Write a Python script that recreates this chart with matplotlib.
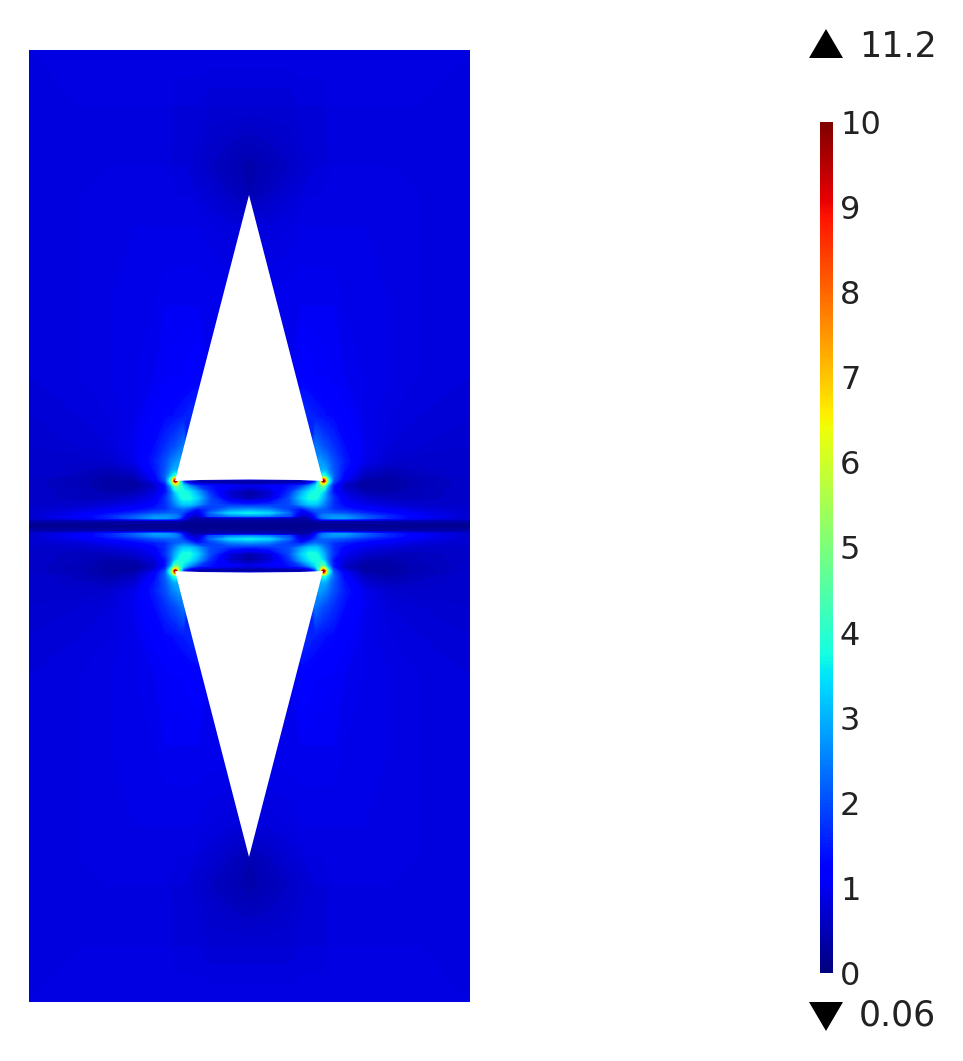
import numpy as np
from matplotlib import pyplot as plt
from matplotlib.cm import ScalarMappable
from matplotlib.colors import Normalize

# offsets from the centre of the block, in picture pixels
dx = [0, 20, 40, 52, 60, 66, 70, 72, 74, 76, 78, 84, 95, 115, 140, 170, 220]
dy = [0, 5, 8, 10, 13, 17, 22, 28, 34, 40, 43, 45, 47, 50, 56, 65, 80, 110, 150, 220, 300, 331, 360, 420, 476]

# field magnitude, upper left quarter (rows dy, columns dx)
field = [
    [.12, .12, .12, .12, .12, .12, .12, .12, .12, .12, .12, .12, .12, .12, .12, .13, .15],
    [.25, .25, .25, .25, .25, .3, .35, .35, .35, .35, .35, .35, .35, .35, .35, .35, .4],
    [.5, .5, .4, .3, .5, 1.2, 2, 2.2, 2.4, 2.5, 2.6, 2.8, 2.8, 2.2, 1.6, 1.1, .7],
    [2.6, 2.4, 2, .6, .8, 1.5, 2.2, 2.4, 2.5, 2.6, 2.6, 2.7, 2.6, 2.1, 1.6, 1.1, .7],
    [3.6, 3.3, 2.2, .8, 1.2, 1.8, 2.1, 2.2, 2.2, 2.2, 2.2, 2.1, 2, 1.6, 1.3, 1, .7],
    [2.6, 2.4, 1.8, 1.4, 2, 2.3, 2.2, 2.2, 2.1, 2.1, 2, 1.7, 1.5, 1.2, 1, .8, .7],
    [1.4, 1.6, 2, 2.8, 3.3, 3.3, 3, 2.8, 2.6, 2.4, 2.2, 1.7, 1.2, .9, .75, .65, .65],
    [.4, .8, 2, 3.3, 3.8, 3.8, 3.5, 3.2, 3, 2.7, 2.4, 1.7, 1, .7, .55, .55, .65],
    [.3, .7, 1.7, 2.9, 3.6, 3.8, 3.8, 3.6, 3.3, 2.9, 2.4, 1.4, .8, .45, .4, .55, .65],
    [.9, 1.1, 1.4, 1.8, 2.6, 3.4, 4.1, 4.5, 4.6, 3.9, 3, 1.4, .6, .3, .35, .5, .65],
    [.35, .4, .45, .6, 1.1, 2.3, 4.5, 6, 7, 6, 4, 1.7, .7, .3, .35, .5, .65],
    [.2, .2, .2, .2, .5, 1.5, 4, 7, 10.5, 7.5, 4.5, 2, .9, .35, .35, .5, .65],
    [1, 1, 1, 1, 1, 1, 3.5, 6, 8, 6.5, 4.2, 2.1, 1.1, .4, .35, .5, .65],
    [1, 1, 1, 1, 1, 2, 3, 3.6, 4, 3.8, 3.3, 2.2, 1.2, .55, .4, .55, .7],
    [1, 1, 1, 1, 1, 2, 2.9, 3, 3, 2.9, 2.7, 2.1, 1.4, .7, .5, .6, .7],
    [1, 1, 1, 1, 1, 2.5, 2.8, 2.7, 2.6, 2.5, 2.4, 2, 1.5, .95, .7, .65, .7],
    [1, 1, 1, 1, 1.5, 2.4, 2.2, 2.1, 2, 1.95, 1.9, 1.7, 1.35, 1, .8, .75, .7],
    [1, 1, 1, 1.7, 1.6, 1.5, 1.45, 1.4, 1.4, 1.35, 1.35, 1.3, 1.15, .95, .85, .8, .75],
    [1, 1, 1, 1.2, 1.15, 1.1, 1.1, 1.1, 1.1, 1.1, 1.1, 1.05, 1, .95, .9, .85, .8],
    [1, 1, 1, 1, 1, 1, 1, 1, 1, 1, 1, 1, .95, .95, .9, .85, .8],
    [.85, .8, .85, .9, .9, .9, .9, .9, .9, .9, .9, .9, .9, .9, .9, .85, .85],
    [.45, .6, .75, .8, .85, .85, .85, .85, .85, .9, .9, .9, .9, .9, .9, .85, .85],
    [.4, .5, .6, .7, .75, .8, .8, .8, .8, .8, .8, .85, .85, .85, .85, .85, .85],
    [.75, .75, .75, .8, .8, .8, .8, .8, .8, .8, .85, .85, .85, .85, .85, .85, .85],
    [.9, .9, .9, .9, .9, .9, .9, .9, .9, .9, .9, .9, .9, .9, .9, .9, .85],
]

# holes of the geometry, picture pixels
top_hole_x = [249, 323, 300, 249, 200, 175]
top_hole_y = [195, 481, 480, 479.5, 480, 481]
bottom_hole_x = [249, 323, 300, 249, 200, 175]
bottom_hole_y = [857, 571, 572, 572.5, 572, 571]

bar_ticks = [0, 1, 2, 3, 4, 5, 6, 7, 8, 9, 10]
max_label = '11.2'
min_label = '0.06'
max_marker_x = [826, 843, 809]
max_marker_y = [29, 58, 58]
min_marker_x = [826, 843, 809]
min_marker_y = [1031, 1002, 1002]

W, H = 963, 1061
fig = plt.figure(figsize=(W/100, H/100), dpi=100)
ax = fig.add_axes([0, 0, 1, 1])
ax.set_xlim(0, W)
ax.set_ylim(H, 0)
ax.axis('off')

# mirror the quarter into the whole block
dx = np.array(dx, dtype=float)
dy = np.array(dy, dtype=float)
z = np.array(field)
z = np.hstack([z[:, :0:-1], z])
z = np.vstack([z[:0:-1, :], z])
x = 249.5 + np.concatenate([-dx[:0:-1], dx])
y = 526 + np.concatenate([-dy[:0:-1], dy])

norm = Normalize(0, 10)
ax.contourf(x, y, z, levels=np.linspace(0, 10, 201), cmap='jet', norm=norm,
            extend='both', antialiased=False)
ax.fill(top_hole_x, top_hole_y, color='white', lw=0)
ax.fill(bottom_hole_x, bottom_hole_y, color='white', lw=0)

# colour bar
cax = fig.add_axes([820/W, 1 - 973/H, 13/W, 851/H])
cb = fig.colorbar(ScalarMappable(norm=norm, cmap='jet'), cax=cax, ticks=bar_ticks)
cb.outline.set_visible(False)
cb.ax.tick_params(length=0, pad=5, labelsize=23, labelcolor='#222222')

ax.fill(max_marker_x, max_marker_y, color='black', lw=0)
ax.fill(min_marker_x, min_marker_y, color='black', lw=0)
ax.text(859, 47, max_label, fontsize=25, color='#222222', va='center', ha='left')
ax.text(859, 1016, min_label, fontsize=25, color='#222222', va='center', ha='left')

plt.savefig('out.png', dpi=100)
